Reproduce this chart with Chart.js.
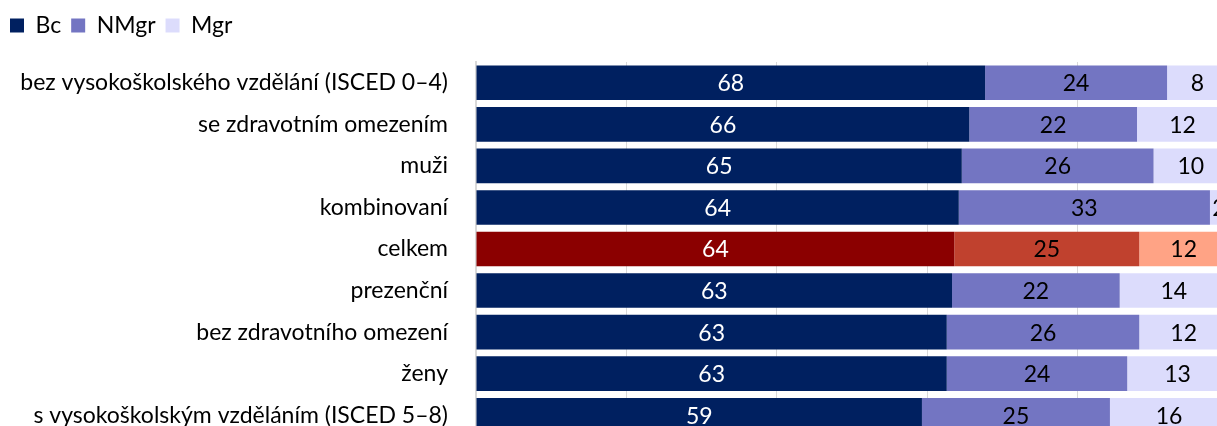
<!DOCTYPE html>
<html>
<head>
<meta charset="utf-8">
<script src="https://cdn.jsdelivr.net/npm/chart.js@4"></script>
<style>
  html, body { margin: 0; padding: 0; background: #fff; overflow: hidden; }
  #chart { position: absolute; left: 0; top: 0; }
</style>
</head>
<body>
<canvas id="chart" width="1228" height="436"></canvas>
<script>
// kategorie a podíly (v %)
const categories = [
    'bez vysokoškolského vzdělání (ISCED 0–4)',
    'se zdravotním omezením',
    'muži',
    'kombinovaní',
    'celkem',
    'prezenční',
    'bez zdravotního omezení',
    'ženy',
    's vysokoškolským vzděláním (ISCED 5–8)'
];
const bc   = [67.7, 65.6, 64.6, 64.2, 63.6, 63.3, 62.6, 62.6, 59.3];
const nmgr = [24.2, 22.3, 25.5, 33.4, 24.6, 22.3, 25.6, 24.0, 25.0];
const mgr  = [8.1, 12.1, 9.9, 2.4, 11.8, 14.4, 11.8, 13.4, 15.7];
const xTicks = [0, 20, 40, 60, 80, 100];

// řádek "celkem" je zvýrazněn jinou barvou
const highlight = 'celkem';
const colors = {
    Bc:   { normal: '#002060', hl: '#8B0000' },
    NMgr: { normal: '#7375C2', hl: '#C0412E' },
    Mgr:  { normal: '#DCDCFC', hl: '#FFA385' }
};

function pickColor(name) {
    return (ctx) => {
        if (ctx.dataIndex !== undefined && categories[ctx.dataIndex] === highlight) {
            return colors[name].hl;
        }
        return colors[name].normal;
    };
}

// popisky hodnot uprostřed segmentů
const valueLabels = {
    id: 'valueLabels',
    afterDatasetsDraw(chart) {
        const ctx = chart.ctx;
        ctx.save();
        ctx.font = '23px Lato';
        ctx.textAlign = 'center';
        ctx.textBaseline = 'middle';
        chart.data.datasets.forEach((ds, i) => {
            const meta = chart.getDatasetMeta(i);
            meta.data.forEach((bar, j) => {
                const p = bar.getProps(['x', 'y', 'base'], true);
                ctx.fillStyle = i === 0 ? '#ffffff' : '#000000';
                ctx.fillText(Math.round(ds.data[j]), (p.x + p.base) / 2, p.y + 1);
            });
        });
        ctx.restore();
    }
};

const ctx = document.getElementById('chart').getContext('2d');
new Chart(ctx, {
    type: 'bar',
    data: {
        labels: categories,
        datasets: [
            { label: 'Bc', data: bc, backgroundColor: pickColor('Bc') },
            { label: 'NMgr', data: nmgr, backgroundColor: pickColor('NMgr') },
            { label: 'Mgr', data: mgr, backgroundColor: pickColor('Mgr') }
        ]
    },
    options: {
        indexAxis: 'y',
        responsive: false,
        animation: false,
        layout: { padding: { top: 4, left: 0, right: 0, bottom: 0 } },
        datasets: {
            bar: { categoryPercentage: 1, barPercentage: 0.833, borderWidth: 0 }
        },
        plugins: {
            legend: {
                position: 'top',
                align: 'start',
                labels: {
                    boxWidth: 14,
                    boxHeight: 14,
                    padding: 10,
                    color: '#000',
                    font: { family: 'Lato', size: 23 }
                }
            },
            tooltip: { enabled: false }
        },
        scales: {
            x: {
                position: 'top',
                stacked: true,
                min: 0,
                max: 100,
                afterBuildTicks: (scale) => { scale.ticks = xTicks.map(v => ({ value: v })); },
                afterFit: (scale) => { scale.height = 15; },
                ticks: { display: false },
                border: { display: false },
                grid: { color: '#D9D9D9', lineWidth: 1, drawTicks: false }
            },
            y: {
                stacked: true,
                afterFit: (scale) => {
                    scale.width = 476;
                    scale.paddingTop = 0;
                    scale.paddingBottom = 0;
                },
                ticks: {
                    color: '#000',
                    padding: 28,
                    font: { family: 'Lato', size: 23 }
                },
                grid: { display: false, drawTicks: false },
                border: { display: true, color: '#D9D9D9', width: 2 }
            }
        }
    },
    plugins: [valueLabels]
});
</script>
</body>
</html>
